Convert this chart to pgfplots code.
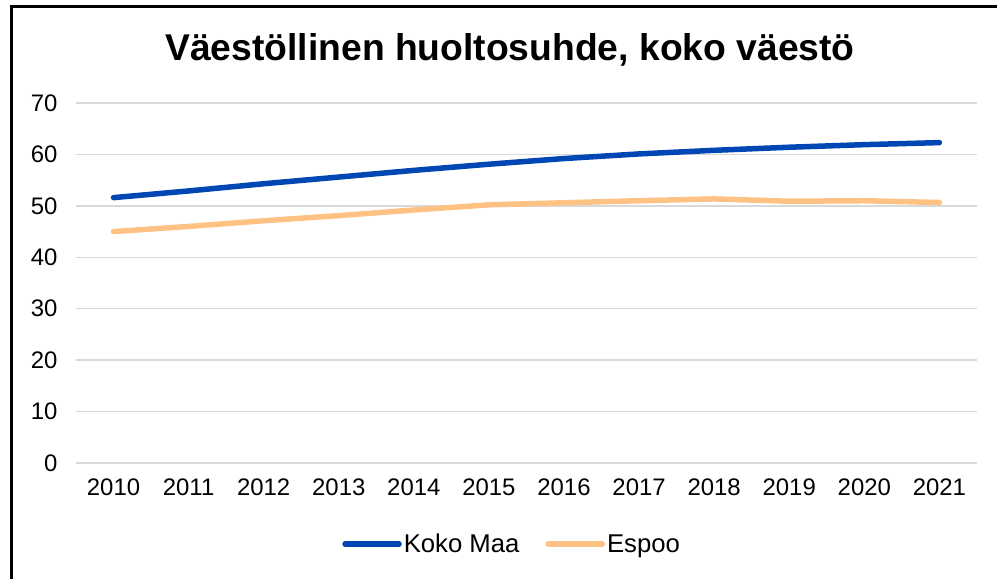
\documentclass[border=0pt]{standalone}
\usepackage{fontspec}
\setmainfont{Liberation Sans}
\usepackage{pgfplots}
\pgfplotsset{compat=1.18}
\definecolor{kokomaa}{HTML}{0047B3}
\definecolor{espoo}{HTML}{FFC285}
\definecolor{gridgray}{HTML}{D9D9D9}

\begin{document}
\begin{tikzpicture}
\useasboundingbox (0,0) rectangle (997bp,579bp);
% chart frame (right and bottom edges fall outside the crop)
\draw[line width=3bp, line cap=rect] (11bp,0) -- (11bp,572bp) -- (997bp,572bp);
\node[font=\fontsize{37.4}{40}\selectfont\bfseries] at (510bp,529bp) {Väestöllinen huoltosuhde, koko väestö};

\begin{axis}[
    at={(76bp,116bp)}, anchor=south west,
    scale only axis,
    width=901bp, height=360bp,
    xmin=2009.5, xmax=2021.5,
    ymin=0, ymax=70,
    xtick={2010,...,2021},
    ytick={0,10,...,70},
    ymajorgrids,
    grid style={draw=gridgray, line width=1.5bp},
    axis line style={draw=none},
    major tick length=0pt,
    /pgf/number format/assume math mode=true,
    /pgf/number format/set thousands separator={},
    tick label style={font=\fontsize{24}{28}\selectfont},
    yticklabel style={anchor=east, xshift=-15bp},
    xticklabel style={anchor=north, yshift=-12bp},
    legend style={at={(0.484,-0.225)}, anchor=center, draw=none,
        font=\fontsize{25.8}{28}\selectfont, legend columns=2,
        /tikz/every even column/.append style={column sep=24bp},
        inner sep=0pt, nodes={inner sep=2bp}},
    legend image code/.code={\draw[#1, line cap=round] (0bp,0bp) -- (54bp,0bp);},
]
\addplot[color=kokomaa, line width=5.5bp, line cap=round, line join=round] coordinates {
    (2010,51.6) (2011,52.9) (2012,54.3) (2013,55.6) (2014,56.9) (2015,58.1)
    (2016,59.2) (2017,60.1) (2018,60.8) (2019,61.4) (2020,61.9) (2021,62.3)
};
\addplot[color=espoo, line width=5.5bp, line cap=round, line join=round] coordinates {
    (2010,45.0) (2011,46.0) (2012,47.1) (2013,48.1) (2014,49.2) (2015,50.2)
    (2016,50.6) (2017,51.0) (2018,51.35) (2019,50.9) (2020,51.0) (2021,50.65)
};
\legend{Koko Maa, Espoo}
\end{axis}
\end{tikzpicture}
\end{document}
